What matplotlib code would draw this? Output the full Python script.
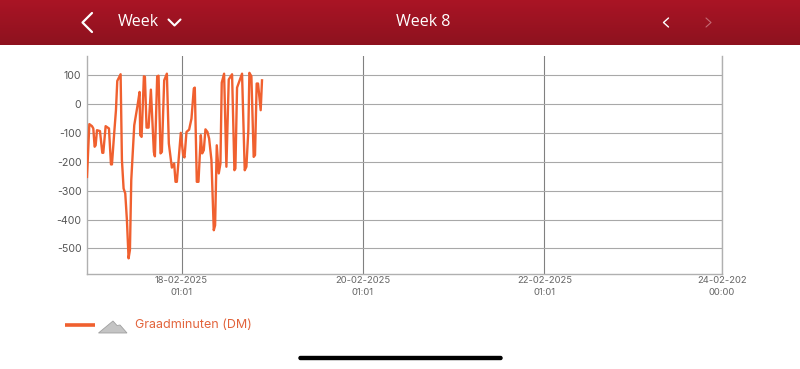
import numpy as np
import pandas as pd
import matplotlib
matplotlib.use('Agg')
import matplotlib.pyplot as plt
from matplotlib.patches import Polygon, FancyBboxPatch

plt.rcParams['font.family'] = ['Inter', 'DejaVu Sans']

# hours since 17-02-2025 00:00
hours = [0.0, 0.62, 1.32, 1.67, 2.02, 2.29, 2.64, 3.43, 4.05, 4.31, 4.93, 5.81, 6.34, 6.6,
         7.22, 7.66, 8.01, 8.89, 9.24, 9.68, 10.12, 10.56, 11.0, 11.36, 11.71, 12.5, 13.38,
         13.91, 14.08, 14.44, 15.05, 15.32, 15.76, 16.29, 16.9, 17.69, 17.96, 18.57, 18.93,
         19.45, 19.81, 20.42, 21.13, 21.65, 22.45, 23.06, 23.42, 23.77, 24.3, 24.82, 25.44,
         25.79, 26.32, 27.02, 27.64, 28.26, 28.52, 29.05, 29.49, 30.11, 30.46, 30.9, 31.34,
         31.87, 32.31, 32.92, 33.54, 33.89, 34.33, 34.86, 35.3, 35.65, 36.27, 36.88, 37.5,
         38.38, 39.0, 39.26, 39.7, 41.02, 41.73, 42.17, 42.69, 42.96, 43.49, 44.1, 44.45,
         44.89, 45.25, 45.95, 46.3]
dm = [-253, -71, -78, -86, -149, -144, -92, -95, -170, -170, -78, -86, -210, -210,
      -98, -23, 78, 101, -195, -293, -310, -402, -534, -505, -264, -75, -6,
      40, -109, -115, 94, 92, -83, -83, 48, -167, -182, 94, 96,
      -172, -167, 80, 103, -138, -221, -207, -270, -270, -184, -101, -178,
      -186, -98, -90, -52, 52, 55, -270, -270, -109, -172, -161, -89,
      -98, -121, -195, -437, -420, -144, -241, -207, 72, 103, -218, 83,
      101, -230, -224, 55, 103, -230, -218, -92, 106, 94, -184, -178,
      69, 69, -23, 80]

start = pd.Timestamp('2025-02-17 00:00')
end = pd.Timestamp('2025-02-24 00:00')
times = start + pd.to_timedelta(hours, unit='h')
tick_times = pd.to_datetime(['2025-02-18 01:01', '2025-02-20 01:01', '2025-02-22 01:01', '2025-02-24 00:00'])
tick_labels = ['18-02-2025\n01:01', '20-02-2025\n01:01', '22-02-2025\n01:01', '24-02-202\n00:00']
y_ticks = [100, 0, -100, -200, -300, -400, -500]

W, H = 800, 369
orange = '#F0602F'

fig = plt.figure(figsize=(W / 100, H / 100), dpi=100, facecolor='white')

# app chrome, in pixel coordinates
bg = fig.add_axes([0, 0, 1, 1])
bg.set_xlim(0, W)
bg.set_ylim(H, 0)
bg.axis('off')
grad = np.linspace(0, 1, 45)[:, None, None]
top = np.array([0.665, 0.080, 0.145])
bot = np.array([0.555, 0.070, 0.120])
bg.imshow(top + (bot - top) * grad, extent=(0, W, 45, 0), aspect='auto', zorder=1)
bg.set_xlim(0, W)
bg.set_ylim(H, 0)

bg.plot([92, 82.5, 92], [13, 22.5, 32], color='white', lw=1.6, solid_capstyle='round', zorder=2)
bg.plot([168.5, 174.5, 180.5], [19.5, 25.5, 19.5], color='white', lw=1.5, solid_capstyle='round', zorder=2)
bg.plot([668.5, 663.5, 668.5], [18, 22.5, 27], color='white', lw=1, solid_capstyle='round', zorder=2)
bg.plot([706, 711, 706], [18, 22.5, 27], color='#c46a74', lw=0.8, solid_capstyle='round', zorder=2)
bg.text(138, 22.5, 'Week', color='white', fontsize=11.5, ha='center', va='center',
        family='Open Sans', zorder=2)
bg.text(423, 22.5, 'Week 8', color='white', fontsize=11.5, ha='center', va='center',
        family='Open Sans', zorder=2)

# legend
bg.plot([65, 95], [324.5, 324.5], color=orange, lw=2.6, solid_capstyle='butt')
bg.add_patch(Polygon([(98.5, 333), (113, 321), (117, 325.5), (120, 325), (127, 333)],
                     facecolor='#c4c4c4', edgecolor='#a0a0a0', lw=0.6))
bg.text(135, 325, 'Graadminuten (DM)', color='#E2643C', fontsize=9, ha='left', va='center')

# home indicator
bg.add_patch(FancyBboxPatch((299, 356.5), 203, 3, boxstyle='round,pad=0,rounding_size=1.5',
                            mutation_aspect=1, facecolor='black', edgecolor='black', lw=1))

# chart
ax = fig.add_axes([87 / W, 1 - 274 / H, (722 - 87) / W, (274 - 56) / H])
ax.patch.set_alpha(0)
ax.plot(times, dm, color=orange, lw=1.7, solid_joinstyle='round', zorder=3)
ax.set_xlim(start, end)
ax.set_ylim(-588, 164)
ax.set_xticks(tick_times)
ax.set_xticklabels(tick_labels, fontsize=6.8, color='#666666', linespacing=1.4)
ax.set_yticks(y_ticks)
ax.set_yticklabels([str(v) for v in y_ticks], fontsize=7.6, color='#555555')
ax.tick_params(axis='x', length=0, pad=1.5)
ax.tick_params(axis='y', length=0, pad=4)
ax.grid(axis='y', color='#a8a8a8', lw=0.8)
ax.grid(axis='x', color='#808080', lw=0.8)
ax.set_axisbelow(True)
ax.spines['top'].set_visible(False)
for side in ['left', 'right', 'bottom']:
    ax.spines[side].set_color('#b0b0b0')
    ax.spines[side].set_linewidth(1)

fig.savefig('out.png', dpi=100)
